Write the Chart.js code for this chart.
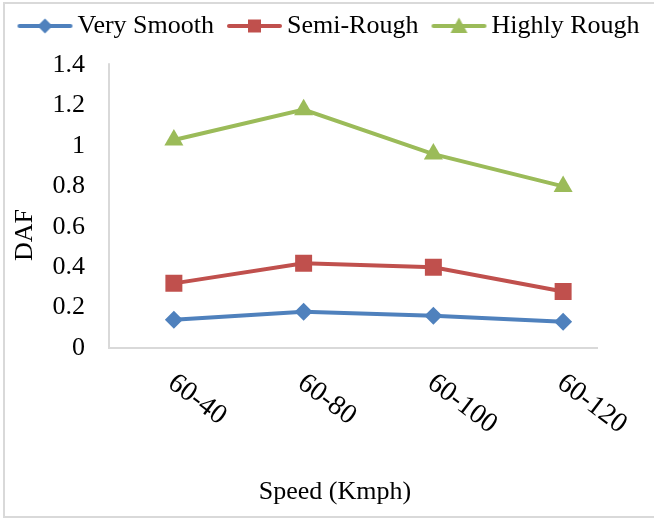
<!DOCTYPE html>
<html>
<head>
<meta charset="utf-8">
<script src="https://cdn.jsdelivr.net/npm/chart.js@4"></script>
<style>
body { margin: 0; background: #fff; }
#frame { position: absolute; left: 3px; top: 2px; width: 700px; height: 512px; border: 2px solid #d9d9d9; }
#wrap { position: absolute; left: 0; top: 0; width: 654px; height: 520px; }
</style>
</head>
<body>
<div id="frame"></div>
<div id="wrap"><canvas id="myChart" width="654" height="520"></canvas></div>
<script>
// data
let speedLabels = ["60-40", "60-80", "60-100", "60-120"];
let verySmooth = [0.14, 0.18, 0.16, 0.13];
let semiRough = [0.32, 0.42, 0.40, 0.28];
let highlyRough = [1.03, 1.18, 0.96, 0.80];
let dafTicks = ["0", "0.2", "0.4", "0.6", "0.8", "1", "1.2", "1.4"];

let blue = "#4F81BD";
let red = "#C0504D";
let green = "#9BBB59";

// legend icons: short line with marker in the middle
// (canvas is wider than the icon so the icon sits close to its text)
function makeIcon(color, shape) {
    let c = document.createElement("canvas");
    c.width = 100;
    c.height = 20;
    let g = c.getContext("2d");
    g.translate(28, 0);
    g.strokeStyle = color;
    g.fillStyle = color;
    g.lineWidth = 4;
    g.lineCap = "round";
    g.beginPath();
    g.moveTo(2, 10);
    g.lineTo(53, 10);
    g.stroke();
    g.beginPath();
    if (shape == "diamond") {
        g.moveTo(27.5, 2.5); g.lineTo(35, 10); g.lineTo(27.5, 17.5); g.lineTo(20, 10);
    } else if (shape == "square") {
        g.rect(21, 3.5, 13, 13);
    } else {
        g.moveTo(27.5, 1.5); g.lineTo(36, 17); g.lineTo(19, 17);
    }
    g.closePath();
    g.fill();
    return c;
}
let legendIcons = [makeIcon(blue, "diamond"), makeIcon(red, "square"), makeIcon(green, "triangle")];

const axisText = {
    id: "axisText",
    beforeDatasetsDraw(chart) {
        const {ctx, chartArea} = chart;
        ctx.save();
        ctx.strokeStyle = "#d9d9d9";
        ctx.lineWidth = 2;
        ctx.beginPath();
        ctx.moveTo(chartArea.left, chartArea.top - 2);
        ctx.lineTo(chartArea.left, chartArea.bottom);
        ctx.lineTo(chartArea.right - 30, chartArea.bottom);
        ctx.stroke();
        ctx.restore();
    },
    afterDraw(chart) {
        const {ctx, chartArea, scales} = chart;
        ctx.save();
        ctx.fillStyle = "#000";
        ctx.font = '28px "Liberation Serif"';
        ctx.textBaseline = "middle";
        ctx.textAlign = "left";
        speedLabels.forEach((lab, i) => {
            let x = scales.x.getPixelForValue(i);
            ctx.save();
            ctx.translate(x - 3, chartArea.bottom + 32);
            ctx.rotate(37 * Math.PI / 180);
            ctx.fillText(lab, 0, 0);
            ctx.restore();
        });
        ctx.font = '26px "Liberation Serif"';
        ctx.textAlign = "center";
        ctx.fillText("Speed (Kmph)", 335, 492);
        ctx.translate(25, 235);
        ctx.rotate(-Math.PI / 2);
        ctx.fillText("DAF", 0, 0);
        ctx.restore();
    }
};

Chart.defaults.font.family = '"Liberation Serif"';
Chart.defaults.font.size = 26;
Chart.defaults.color = "#000";

var ctx = document.getElementById("myChart").getContext("2d");
var myChart = new Chart(ctx, {
    type: "line",
    data: {
        labels: speedLabels,
        datasets: [{
            label: "Very Smooth",
            data: verySmooth,
            borderColor: blue,
            backgroundColor: blue,
            borderWidth: 4,
            pointStyle: "rectRot",
            pointRadius: 9,
            pointBorderWidth: 0,
        }, {
            label: "Semi-Rough",
            data: semiRough,
            borderColor: red,
            backgroundColor: red,
            borderWidth: 4,
            pointStyle: "rect",
            pointRadius: 12,
            pointBorderWidth: 0,
        }, {
            label: "Highly Rough",
            data: highlyRough,
            borderColor: green,
            backgroundColor: green,
            borderWidth: 4,
            pointStyle: "triangle",
            pointRadius: 11,
            pointBorderWidth: 0,
        }, ],
    },
    options: {
        responsive: false,
        animation: false,
        layout: {
            padding: { top: 3, right: 0, left: 0, bottom: 0 },
        },
        plugins: {
            legend: {
                labels: {
                    usePointStyle: true,
                    pointStyleWidth: 50,
                    padding: 10,
                    color: "#000",
                    font: { size: 26 },
                    generateLabels(chart) {
                        let items = Chart.defaults.plugins.legend.labels.generateLabels(chart);
                        items.forEach((it, i) => { it.pointStyle = legendIcons[i]; });
                        return items;
                    },
                },
            },
            // empty title under the legend, used as a gap above the plot
            title: {
                display: true,
                text: "",
                weight: 500,
                font: { size: 1 },
                padding: { top: 0, bottom: 15 },
            },
            tooltip: { enabled: false },
        },
        scales: {
            x: {
                offset: true,
                grid: { display: false, drawTicks: false },
                border: { display: false },
                ticks: { display: false },
                afterFit(scale) { scale.height = 172; },
            },
            y: {
                min: 0,
                max: 1.4,
                grid: { display: false, drawTicks: false },
                border: { display: false },
                ticks: {
                    stepSize: 0.2,
                    padding: 24,
                    font: { size: 26 },
                    callback: (value, index) => dafTicks[index],
                },
                afterFit(scale) { scale.width = 109; },
            },
            // empty right axis, only keeps a margin on the right of the plot
            yRight: {
                display: true,
                position: "right",
                grid: { display: false, drawTicks: false },
                border: { display: false },
                ticks: { display: false },
                afterFit(scale) { scale.width = 26; },
            },
        },
    },
    plugins: [axisText],
});
</script>
</body>
</html>
